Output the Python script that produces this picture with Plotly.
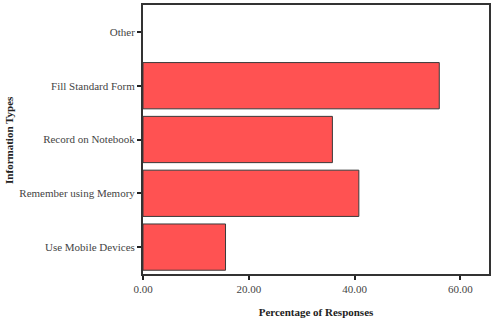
import plotly.graph_objects as go

categories = ["Use Mobile Devices", "Remember using Memory", "Record on Notebook", "Fill Standard Form", "Other"]
values = [15.6, 40.8, 35.8, 56.0, 0.0]
x_ticks = [0, 20, 40, 60]

line_widths = [0 if v == 0 else 1 for v in values]

fig = go.Figure(go.Bar(
    y=categories, x=values, orientation="h",
    marker=dict(color="#FF5252", line=dict(color="#3a3a3a", width=line_widths)),
))
font_family = "'Liberation Serif', serif"
fig.update_layout(
    width=494, height=320,
    margin=dict(l=143, r=3, t=3, b=43),
    plot_bgcolor="white", paper_bgcolor="white",
    bargap=0.14,
    showlegend=False,
    font=dict(family=font_family, size=11, color="#444444"),
)
fig.update_xaxes(
    range=[0, 65.4], tickvals=x_ticks, tickformat=".2f",
    ticks="outside", ticklen=4, tickwidth=2, tickcolor="#222",
    showline=True, linecolor="#333", linewidth=2, mirror=True,
    showgrid=False, zeroline=False,
    title=dict(text="<b>Percentage of Responses</b>", font=dict(size=11, color="#222"), standoff=14),
)
fig.update_yaxes(
    categoryorder="array", categoryarray=categories,
    ticks="outside", ticklen=4, tickwidth=2, tickcolor="#222",
    showline=True, linecolor="#333", linewidth=2, mirror=True,
    showgrid=False, zeroline=False,
)
fig.add_annotation(
    text="<b>Information Types</b>", textangle=-90,
    xref="paper", yref="paper", x=-0.389, y=0.5,
    xanchor="center", yanchor="middle", showarrow=False,
    font=dict(size=11, color="#222", family=font_family),
)
fig.write_html("out.html")
